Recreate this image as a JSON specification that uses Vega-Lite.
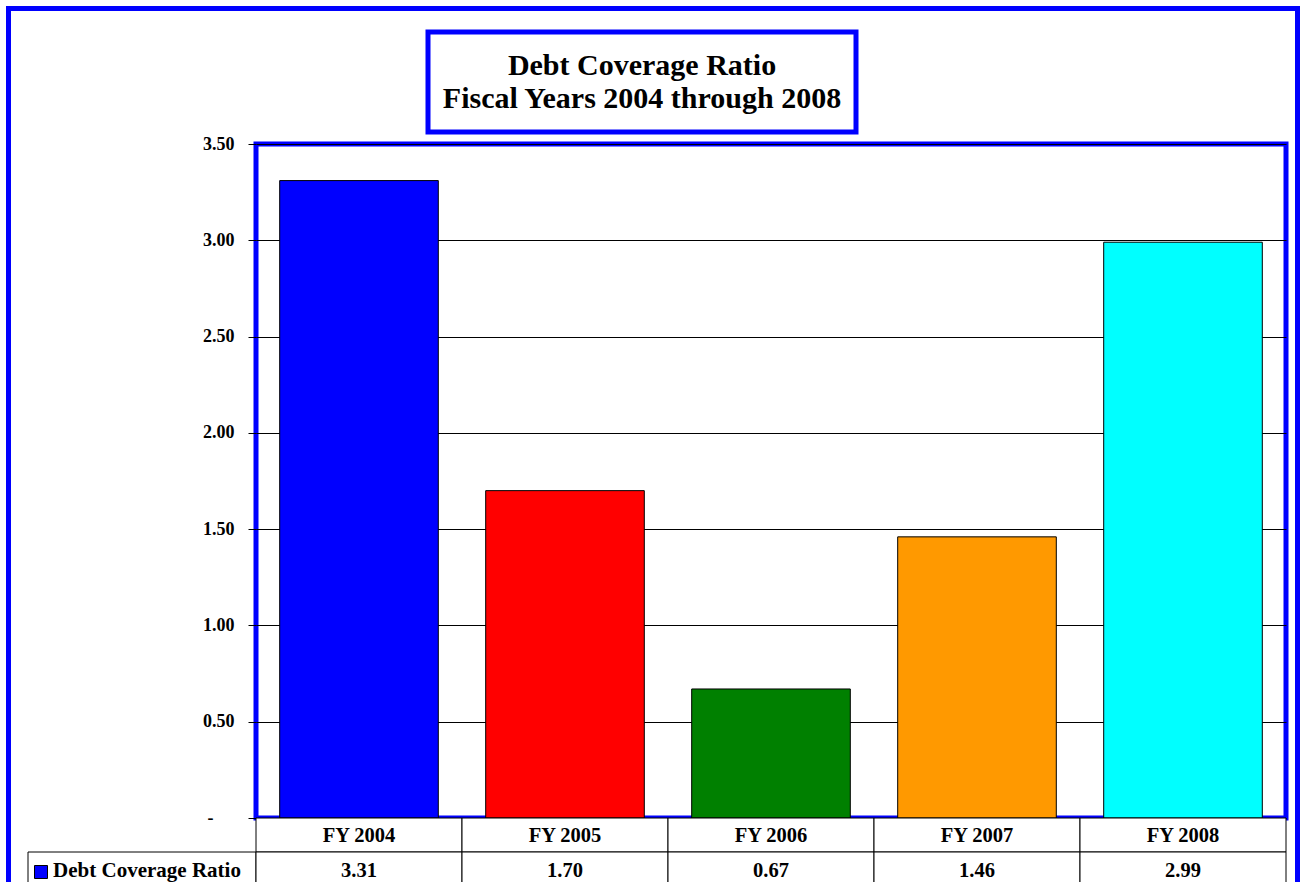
{
  "$schema": "https://vega.github.io/schema/vega-lite/v6.json",
  "background": "white",
  "padding": {"left": 6, "top": 6, "right": 0, "bottom": 0},
  "config": {
    "view": {"stroke": null},
    "font": "Liberation Serif",
    "text": {"font": "Liberation Serif", "fontWeight": "bold", "color": "black"}
  },
  "datasets": {
    "ratios": [
      {"year": "FY 2004", "ratio": 3.31},
      {"year": "FY 2005", "ratio": 1.70},
      {"year": "FY 2006", "ratio": 0.67},
      {"year": "FY 2007", "ratio": 1.46},
      {"year": "FY 2008", "ratio": 2.99}
    ]
  },
  "spacing": 0,
  "hconcat": [
    {
      "width": 5, "height": 900,
      "view": {"fill": "#0000FF", "stroke": null},
      "data": {"values": []},
      "mark": "rect"
    },
    {
      "spacing": 18,
      "vconcat": [
        {
          "width": 1284, "height": 5,
          "view": {"fill": "#0000FF", "stroke": null},
          "data": {"values": []},
          "mark": "rect"
        },
        {
          "spacing": 0,
          "hconcat": [
            {
              "width": 16, "height": 1,
              "data": {"values": []},
              "mark": "rect"
            },
            {
              "spacing": -3,
              "vconcat": [
                {
                  "spacing": 0,
                  "hconcat": [
                    {
                      "width": 397, "height": 100,
                      "data": {"values": []},
                      "mark": "rect"
                    },
                    {
                      "width": 428, "height": 100,
                      "view": {"stroke": "#0000FF", "strokeWidth": 5},
                      "data": {"values": [{"caption": "Debt Coverage Ratio\nFiscal Years 2004 through 2008"}]},
                      "mark": {"type": "text", "lineBreak": "\n", "lineHeight": 33, "fontSize": 30, "fontWeight": "bold", "align": "center", "baseline": "middle", "dy": -16},
                      "encoding": {"text": {"field": "caption", "type": "nominal"}}
                    }
                  ]
                },
                {
                  "columns": 2,
                  "spacing": 0,
                  "bounds": "flush",
                  "concat": [
                    {
                      "width": 228, "height": 674,
                      "data": {"values": []},
                      "mark": "rect"
                    },
                    {
                      "width": 1030, "height": 674,
                      "view": {"stroke": "#0000FF", "strokeWidth": 5},
                      "data": {"name": "ratios"},
                      "mark": {"type": "bar", "stroke": "black", "strokeWidth": 1},
                      "encoding": {
                        "x": {"field": "year", "type": "nominal", "sort": null, "scale": {"paddingInner": 0.23, "paddingOuter": 0.115}, "axis": null},
                        "y": {
                          "field": "ratio", "type": "quantitative",
                          "scale": {"domain": [0, 3.5], "nice": false},
                          "axis": {
                            "title": null,
                            "values": [0, 0.5, 1, 1.5, 2, 2.5, 3, 3.5],
                            "labelExpr": "datum.value === 0 ? '-' : format(datum.value, '.2f')",
                            "labelFont": "Liberation Serif", "labelFontWeight": "bold", "labelFontSize": 18, "labelColor": "black",
                            "labelPadding": {"condition": {"test": "datum.value === 0", "value": 35}, "value": 14},
                            "domain": false,
                            "ticks": true, "tickSize": 8, "tickColor": "black", "tickWidth": 1,
                            "grid": true, "gridColor": "black", "gridOpacity": 1, "gridWidth": 1
                          }
                        },
                        "color": {
                          "field": "year", "type": "nominal",
                          "scale": {"domain": ["FY 2004", "FY 2005", "FY 2006", "FY 2007", "FY 2008"], "range": ["#0000FF", "#FF0000", "#008000", "#FF9900", "#00FFFF"]},
                          "legend": null
                        }
                      }
                    },
                    {
                      "width": 228, "height": 68,
                      "data": {"values": [{"row": "Debt Coverage Ratio"}]},
                      "encoding": {
                        "y": {"datum": "value", "type": "nominal", "scale": {"domain": ["head", "value"], "paddingInner": 0, "paddingOuter": 0}, "axis": null}
                      },
                      "layer": [
                        {"mark": {"type": "rect", "fill": "white", "stroke": "black", "strokeWidth": 1}},
                        {"mark": {"type": "point", "shape": "square", "size": 169, "filled": true, "fill": "#0000FF", "stroke": "black", "strokeWidth": 1, "opacity": 1, "xOffset": -101, "yOffset": 3}},
                        {"mark": {"type": "text", "fontSize": 21, "fontWeight": "bold", "dx": 5, "dy": 2}, "encoding": {"text": {"field": "row", "type": "nominal"}}}
                      ]
                    },
                    {
                      "width": 1030, "height": 68,
                      "data": {"name": "ratios"},
                      "encoding": {
                        "x": {"field": "year", "type": "nominal", "sort": null, "scale": {"paddingInner": 0, "paddingOuter": 0}, "axis": null}
                      },
                      "layer": [
                        {
                          "mark": {"type": "rect", "fill": "white", "stroke": "black", "strokeWidth": 1},
                          "encoding": {"y": {"datum": "head", "type": "nominal", "scale": {"domain": ["head", "value"], "paddingInner": 0, "paddingOuter": 0}, "axis": null}}
                        },
                        {
                          "mark": {"type": "rect", "fill": "white", "stroke": "black", "strokeWidth": 1},
                          "encoding": {"y": {"datum": "value", "type": "nominal"}}
                        },
                        {
                          "mark": {"type": "text", "fontSize": 20.5, "fontWeight": "bold", "dy": 1},
                          "encoding": {"y": {"datum": "head", "type": "nominal"}, "text": {"field": "year", "type": "nominal"}}
                        },
                        {
                          "mark": {"type": "text", "fontSize": 20.5, "fontWeight": "bold", "dy": 2},
                          "encoding": {"y": {"datum": "value", "type": "nominal"}, "text": {"field": "ratio", "type": "quantitative", "format": ".2f"}}
                        }
                      ]
                    }
                  ]
                }
              ]
            }
          ]
        }
      ]
    },
    {
      "width": 5, "height": 900,
      "view": {"fill": "#0000FF", "stroke": null},
      "data": {"values": []},
      "mark": "rect"
    }
  ]
}
